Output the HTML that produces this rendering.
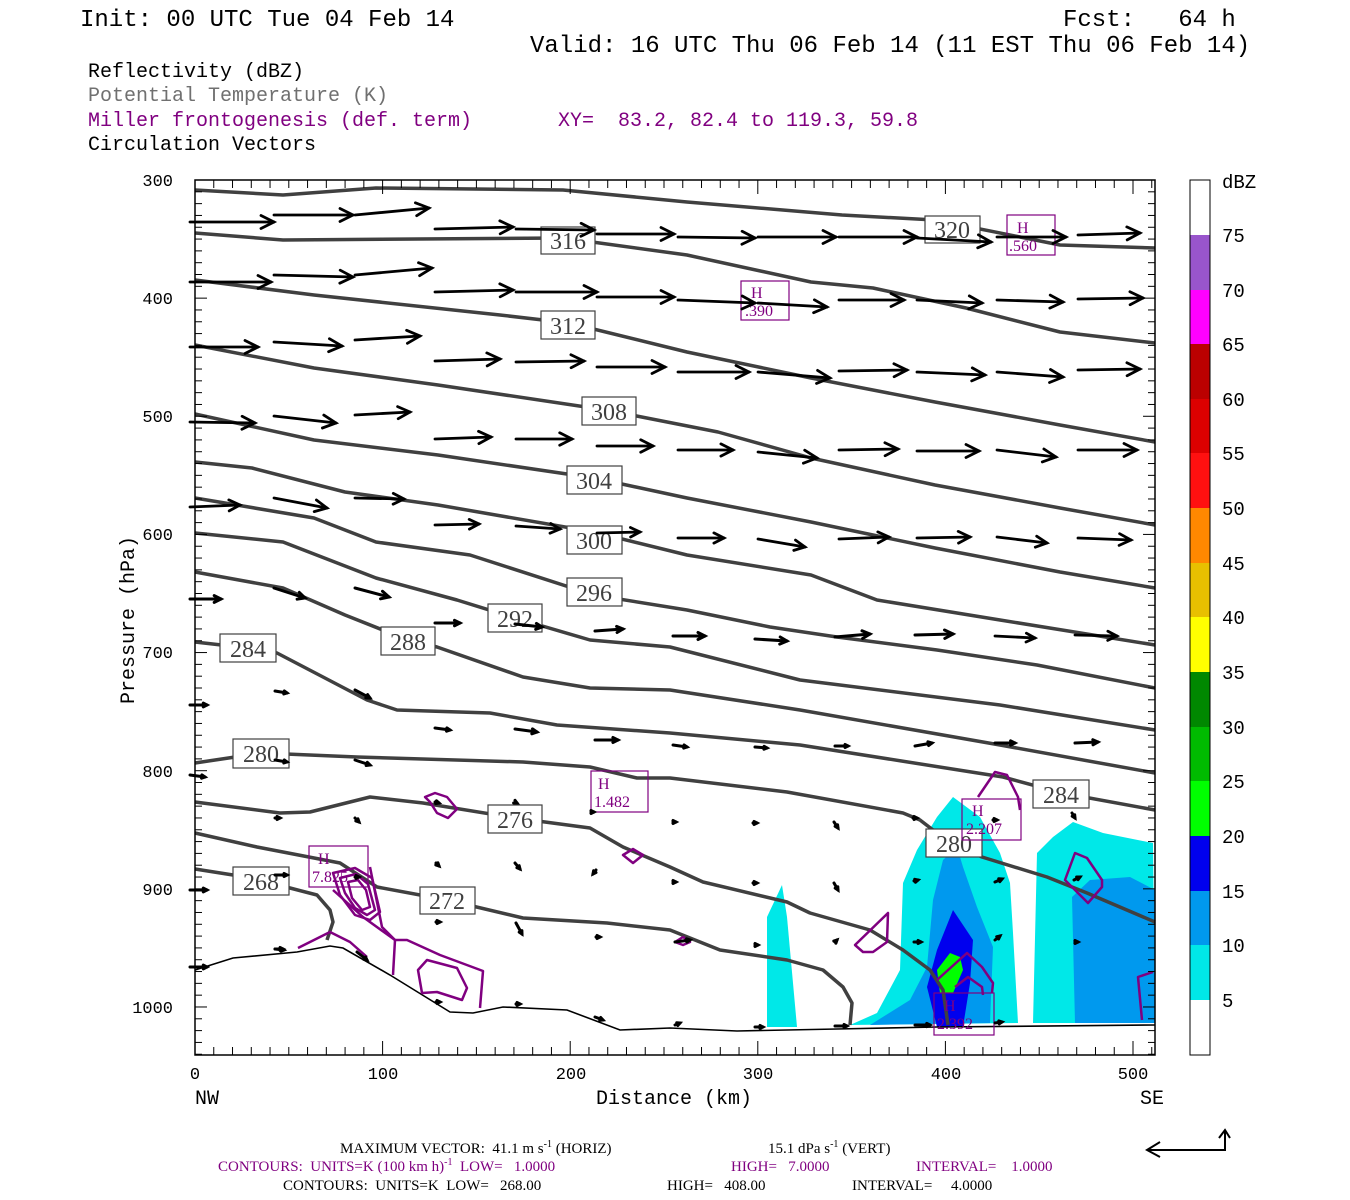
<!DOCTYPE html>
<html><head><meta charset="utf-8"><style>
html,body{margin:0;padding:0;background:#fff;}
#w{position:relative;width:1350px;height:1200px;overflow:hidden;background:#fff;}
svg{position:absolute;left:0;top:0;}
svg text{white-space:pre;}
.m{font-family:"Liberation Mono",monospace;}
.s{font-family:"Liberation Serif",serif;}
</style></head><body><div id="w">
<svg id="sv" width="1350" height="1200" viewBox="0 0 1350 1200" xmlns="http://www.w3.org/2000/svg" xml:space="preserve">
<g class="m" font-size="24" fill="#000">
<text x="80" y="26">Init: 00 UTC Tue 04 Feb 14</text>
<text x="1063" y="26">Fcst:   64 h</text>
<text x="530" y="52">Valid: 16 UTC Thu 06 Feb 14 (11 EST Thu 06 Feb 14)</text>
</g>
<g class="m" font-size="20">
<text x="88" y="77" fill="#000">Reflectivity (dBZ)</text>
<text x="88" y="101" fill="#707070">Potential Temperature (K)</text>
<text x="88" y="126" fill="#800080">Miller frontogenesis (def. term)</text>
<text x="558" y="126" fill="#800080">XY=  83.2, 82.4 to 119.3, 59.8</text>
<text x="88" y="150" fill="#000">Circulation Vectors</text>
</g>
<g stroke="none">
<polygon fill="#00e8e8" points="767,1027 767,917 782,885 787,917 797,1027"/>
<polygon fill="#00e8e8" points="850,1025 877,1013 900,970 903,883 917,850 937,817 953,797 980,817 1000,853 1010,883 1013,933 1018,1023"/>
<polygon fill="#0099ee" points="870,1025 910,1000 927,967 933,900 943,860 957,847 963,867 977,907 993,947 990,1023"/>
<polygon fill="#0000ee" points="927,987 937,950 953,910 973,940 970,983 963,1027 937,1027"/>
<polygon fill="#00ff00" points="937,970 950,953 960,957 963,970 953,993 940,993"/>
<polygon fill="#00e8e8" points="1033,1023 1037,853 1053,837 1073,822 1103,833 1153,843 1155,1023"/>
<polygon fill="#0099ee" points="1075,1023 1072,897 1090,880 1130,877 1155,890 1155,1023"/>
</g>
<g fill="none" stroke="#404040" stroke-width="3.5" stroke-linejoin="round">
<polyline points="195,190 283,195 376,188 563,190 687,202 842,215 935,220 1060,245 1155,248"/>
<polyline points="195,233 283,240 563,238 687,255 811,282 873,288 966,308 1060,332 1155,343"/>
<polyline points="195,280 314,295 500,315 569,323 687,352 811,378 935,402 1060,425 1155,442"/>
<polyline points="195,345 314,368 438,385 606,410 718,432 811,458 935,485 1060,508 1155,525"/>
<polyline points="195,414 314,440 438,455 594,478 687,498 811,522 935,548 1060,572 1155,588"/>
<polyline points="195,462 252,468 345,492 438,505 594,532 687,555 811,575 877,600 1000,620 1155,645"/>
<polyline points="195,498 314,518 376,542 470,555 594,595 687,610 770,627 837,637 937,650 1037,665 1155,688"/>
<polyline points="195,533 283,542 376,578 457,600 515,618 590,640 670,647 800,680 1000,705 1155,730"/>
<polyline points="195,572 283,588 345,615 408,640 437,647 523,677 590,688 670,690 800,710 1000,745 1155,773"/>
<polyline points="195,642 248,648 277,653 323,677 367,700 397,710 490,713 557,725 670,733 800,745 1003,777 1062,793 1155,810"/>
<polyline points="195,763 262,753 357,757 523,762 590,767 637,778 670,778 787,792 903,813 920,820 933,830 953,843 982,857 1047,877 1087,893 1155,922"/>
<polyline points="195,802 280,813 310,812 370,797 423,803 515,818 590,828 623,847 670,867 703,882 787,902 810,913 870,930 903,950 930,970 943,990 948,1025"/>
<polyline points="195,833 257,847 340,863 377,887 447,900 523,918 607,923 670,930 720,950 787,960 823,970 843,987 852,1003 850,1025"/>
<polyline points="195,869 233,875 290,888 317,895 330,910 333,922 327,940"/>
</g>
<polyline fill="none" stroke="#000" stroke-width="1.6" points="195,970 233,958 297,952 330,946 343,948 390,975 450,1012 473,1013 503,1007 567,1010 620,1030 670,1028 737,1031 837,1029 937,1027 1155,1025"/>
<g fill="none" stroke="#800080" stroke-width="2.5" stroke-linejoin="round">
<polygon points="425,797 435,793 447,797 457,809 448,818 437,813 430,802"/>
<polygon points="623,855 633,849 643,855 633,863"/>
<polygon points="333,873 355,868 372,878 380,912 370,920 355,915 340,895"/>
<polygon points="340,878 356,874 368,884 375,910 367,915 355,908 345,893"/>
<polygon points="348,882 358,880 366,890 370,907 362,910 352,898"/>
<polyline points="370,867 382,927 395,940 393,975"/>
<polyline points="395,940 407,940 440,955 483,971 480,1008"/>
<polygon points="418,970 427,960 457,968 467,988 462,1000 437,992 422,993"/>
<polyline points="298,948 330,932 350,942 367,957"/>
<polyline points="333,890 363,917 395,940"/>
<polygon points="855,945 888,913 887,942 873,952 863,952"/>
<polyline points="937,980 967,953 982,967 993,983 992,993"/>
<polyline points="955,987 968,977 982,987 983,995"/>
<polyline points="978,797 995,772 1007,775 1018,797 1020,810"/>
<polygon points="1065,880 1075,853 1087,858 1102,880 1102,887 1088,903"/>
<polyline points="1142,1020 1138,977 1153,972"/>
<polygon points="675,942 683,937 690,942 683,945"/>
</g>
<g class="s" font-size="24" fill="#404040" text-anchor="middle">
<g fill="#fff" stroke="#404040" stroke-width="1.2">
<rect x="541" y="227" width="54" height="27"/><rect x="925" y="216" width="55" height="27"/>
<rect x="541" y="311" width="54" height="28"/><rect x="582" y="397" width="54" height="28"/>
<rect x="567" y="466" width="55" height="28"/><rect x="567" y="526" width="55" height="28"/>
<rect x="567" y="578" width="55" height="28"/><rect x="488" y="604" width="54" height="28"/>
<rect x="381" y="627" width="54" height="28"/><rect x="220" y="634" width="56" height="28"/>
<rect x="233" y="739" width="56" height="29"/><rect x="488" y="805" width="54" height="28"/>
<rect x="420" y="887" width="55" height="27"/><rect x="233" y="867" width="56" height="28"/>
<rect x="1033" y="780" width="56" height="28"/><rect x="926" y="829" width="56" height="28"/>
</g>
<text x="568" y="249">316</text><text x="952" y="238">320</text>
<text x="568" y="334">312</text><text x="609" y="420">308</text>
<text x="594" y="489">304</text><text x="594" y="549">300</text>
<text x="594" y="601">296</text><text x="515" y="627">292</text>
<text x="408" y="650">288</text><text x="248" y="657">284</text>
<text x="261" y="762">280</text><text x="515" y="828">276</text>
<text x="447" y="909">272</text><text x="261" y="890">268</text>
<text x="1061" y="803">284</text><text x="954" y="852">280</text>
</g>
<g class="s" font-size="16" fill="#800080">
<g fill="none" stroke="#800080" stroke-width="1.2">
<rect x="1007" y="215" width="48" height="40"/><rect x="741" y="281" width="48" height="39"/>
<rect x="591" y="771" width="57" height="41"/><rect x="309" y="846" width="59" height="41"/>
<rect x="962" y="799" width="59" height="41"/><rect x="934" y="993" width="60" height="42"/>
</g>
<text x="1017" y="233">H</text><text x="1009" y="251">.560</text>
<text x="751" y="298">H</text><text x="745" y="316">.390</text>
<text x="598" y="789">H</text><text x="594" y="807">1.482</text>
<text x="318" y="864">H</text><text x="312" y="882">7.825</text>
<text x="972" y="816">H</text><text x="966" y="834">2.207</text>
<text x="944" y="1011">H</text><text x="937" y="1029">2.392</text>
</g>
<g id="arr" stroke="#000" fill="none" stroke-linecap="round"></g>
<g id="tk" stroke="#000" stroke-width="1"></g>
<rect x="195" y="180" width="960" height="875" fill="none" stroke="#000" stroke-width="1.5"/>
<g class="m" font-size="17" fill="#000" text-anchor="end">
<text x="173" y="186">300</text><text x="173" y="304">400</text><text x="173" y="422">500</text>
<text x="173" y="540">600</text><text x="173" y="658">700</text><text x="173" y="777">800</text>
<text x="173" y="895">900</text><text x="173" y="1013">1000</text>
</g>
<g class="m" font-size="17" fill="#000" text-anchor="middle">
<text x="195" y="1079">0</text><text x="383" y="1079">100</text><text x="571" y="1079">200</text>
<text x="758" y="1079">300</text><text x="946" y="1079">400</text><text x="1133" y="1079">500</text>
</g>
<g class="m" font-size="20" fill="#000">
<text x="195" y="1104">NW</text><text x="1140" y="1104">SE</text>
<text x="674" y="1104" text-anchor="middle">Distance (km)</text>
<text transform="translate(134,620) rotate(-90)" text-anchor="middle">Pressure (hPa)</text>
</g>
<g stroke="none">
<rect x="1190" y="235" width="20" height="55" fill="#9955cc"/>
<rect x="1190" y="290" width="20" height="54" fill="#ff00ff"/>
<rect x="1190" y="344" width="20" height="55" fill="#bb0000"/>
<rect x="1190" y="399" width="20" height="54" fill="#dd0000"/>
<rect x="1190" y="453" width="20" height="55" fill="#ff1010"/>
<rect x="1190" y="508" width="20" height="55" fill="#ff8800"/>
<rect x="1190" y="563" width="20" height="54" fill="#e8c000"/>
<rect x="1190" y="617" width="20" height="55" fill="#ffff00"/>
<rect x="1190" y="672" width="20" height="55" fill="#008800"/>
<rect x="1190" y="727" width="20" height="54" fill="#00bb00"/>
<rect x="1190" y="781" width="20" height="55" fill="#00ff00"/>
<rect x="1190" y="836" width="20" height="55" fill="#0000ee"/>
<rect x="1190" y="891" width="20" height="54" fill="#0099ee"/>
<rect x="1190" y="945" width="20" height="55" fill="#00e8e8"/>
</g>
<rect x="1190" y="180" width="20" height="875" fill="none" stroke="#000" stroke-width="1"/>
<g class="m" font-size="19" fill="#000">
<text x="1222" y="188">dBZ</text>
<text x="1222" y="242">75</text><text x="1222" y="297">70</text><text x="1222" y="351">65</text>
<text x="1222" y="406">60</text><text x="1222" y="460">55</text><text x="1222" y="515">50</text>
<text x="1222" y="570">45</text><text x="1222" y="624">40</text><text x="1222" y="679">35</text>
<text x="1222" y="734">30</text><text x="1222" y="788">25</text><text x="1222" y="843">20</text>
<text x="1222" y="898">15</text><text x="1222" y="952">10</text><text x="1222" y="1007">5</text>
</g>
<g class="s" font-size="15">
<text x="340" y="1153" fill="#000">MAXIMUM VECTOR:  41.1 m s<tspan font-size="10" dy="-6">-1</tspan><tspan dy="6"> (HORIZ)</tspan></text>
<text x="768" y="1153" fill="#000">15.1 dPa s<tspan font-size="10" dy="-6">-1</tspan><tspan dy="6"> (VERT)</tspan></text>
<g fill="#800080">
<text x="218" y="1171">CONTOURS:  UNITS=K (100 km h)<tspan font-size="10" dy="-6">-1</tspan><tspan dy="6">  LOW=   1.0000</tspan></text>
<text x="731" y="1171">HIGH=   7.0000</text>
<text x="916" y="1171">INTERVAL=    1.0000</text>
</g>
<g fill="#000">
<text x="283" y="1190">CONTOURS:  UNITS=K  LOW=   268.00</text>
<text x="667" y="1190">HIGH=   408.00</text>
<text x="852" y="1190">INTERVAL=     4.0000</text>
</g>
</g>
<g stroke="#000" stroke-width="2" fill="none">
<polyline points="1225,1130 1225,1150 1147,1150"/>
<polyline points="1160,1142 1147,1150 1160,1157"/>
<polyline points="1219,1138 1225,1130 1230,1138"/>
</g>
</svg>
<script>
(function(){
var tk=document.getElementById("tk"),s="";
for(var p=300;p<=1040;p+=10){var y=180+(p-300)*1.1814;var L=(p%100==0)?12:7;
s+='<line x1="195" y1="'+y+'" x2="'+(195+L)+'" y2="'+y+'"/><line x1="1155" y1="'+y+'" x2="'+(1155-L)+'" y2="'+y+'"/>';}
for(var d=0;d<=510;d+=10){var x=195+d*1.876;var L=(d%100==0)?14:8;
s+='<line x1="'+x+'" y1="1055" x2="'+x+'" y2="'+(1055-L)+'"/><line x1="'+x+'" y1="180" x2="'+x+'" y2="'+(180+L)+'"/>';}
tk.innerHTML=s;
var A=[
[190,222,274,222],[274,215,353,215],[355,215,429,208],[435,229,513,227],[516,229,594,230],[597,234,674,234],[678,237,755,238],[758,237,836,237],[839,237,917,237],[917,238,991,242],[997,237,1066,237],[1078,235,1140,233],
[190,282,271,282],[274,275,353,277],[355,275,432,268],[435,292,513,290],[516,292,597,292],[597,297,674,297],[678,300,755,303],[758,303,827,307],[839,300,904,300],[917,300,982,303],[997,300,1063,302],[1078,299,1143,298],
[190,347,258,347],[274,342,342,346],[355,340,420,336],[435,361,500,359],[516,362,584,361],[597,367,665,367],[678,372,749,372],[758,372,830,378],[839,371,907,370],[917,372,985,375],[997,372,1063,377],[1078,370,1140,369],
[190,422,255,423],[274,416,336,423],[355,415,410,412],[435,439,491,437],[516,439,572,439],[597,446,653,446],[678,450,733,450],[758,452,817,458],[839,450,898,449],[917,451,979,451],[997,450,1056,457],[1078,450,1137,450],
[190,507,240,505],[274,498,327,508],[355,498,404,499],[435,525,479,524],[516,526,560,529],[597,533,640,532],[678,538,724,538],[758,539,805,547],[839,539,889,537],[917,538,970,537],[997,537,1047,543],[1078,538,1131,540],
[190,599,221,599],[274,588,305,598],[355,588,389,597],[435,623,460,623],[515,624,542,627],[595,631,623,629],[673,636,705,636],[755,639,787,641],[835,637,870,634],[915,635,953,634],[995,636,1035,638],[1075,635,1117,636],
[190,705,207,705],[275,691,287,693],[355,690,370,698],[435,728,450,730],[515,729,537,732],[595,740,618,740],[673,745,687,747],[755,747,767,748],[835,746,848,746],[915,746,932,743],[995,743,1015,743],[1075,743,1098,742],
[190,775,205,777],[275,760,287,762],[355,760,370,765],
[275,818,280,818],[355,818,359,822],[435,802,439,803],[515,802,517,803],[591,812,594,812],[673,822,676,822],[753,823,757,823],[834,822,838,828],[913,818,917,818],[993,820,997,820],[1072,813,1075,818],
[190,890,207,890],[275,875,287,875],[355,877,359,877],[436,863,439,866],[515,863,520,869],[596,870,593,874],[673,882,676,882],[753,883,757,883],[834,883,838,890],[914,881,918,880],[995,882,1002,879],[1074,880,1080,877],
[190,967,207,967],[275,949,283,949],[357,952,367,960],[436,922,440,922],[516,923,522,934],[596,937,600,937],[675,942,690,940],[755,945,758,945],[835,942,837,940],[914,942,921,942],[995,940,1000,936],[1075,942,1078,942],
[275,949,284,950],[436,1002,440,1002],[516,1004,520,1004],[595,1017,603,1020],[675,1025,680,1023],[755,1027,763,1027],[835,1026,847,1026],[915,1025,930,1025],[995,1023,1002,1022]
];
var g=document.getElementById("arr"),o="";
A.forEach(function(a){var dx=a[2]-a[0],dy=a[3]-a[1],l=Math.sqrt(dx*dx+dy*dy);if(l<0.5)l=0.5;
var ux=dx/l,uy=dy/l,h=Math.min(13,Math.max(3,l*0.22)),w=l>40?2.8:3;
var hx1=a[2]-h*ux+h*0.5*(-uy),hy1=a[3]-h*uy+h*0.5*ux,hx2=a[2]-h*ux-h*0.5*(-uy),hy2=a[3]-h*uy-h*0.5*ux;
o+='<polyline stroke-width="'+w+'" points="'+a[0]+','+a[1]+' '+a[2]+','+a[3]+'"/>';
o+='<polyline stroke-width="'+w+'" points="'+hx1.toFixed(1)+','+hy1.toFixed(1)+' '+a[2]+','+a[3]+' '+hx2.toFixed(1)+','+hy2.toFixed(1)+'"/>';});
g.innerHTML=o;
})();
</script>
</div></body></html>
